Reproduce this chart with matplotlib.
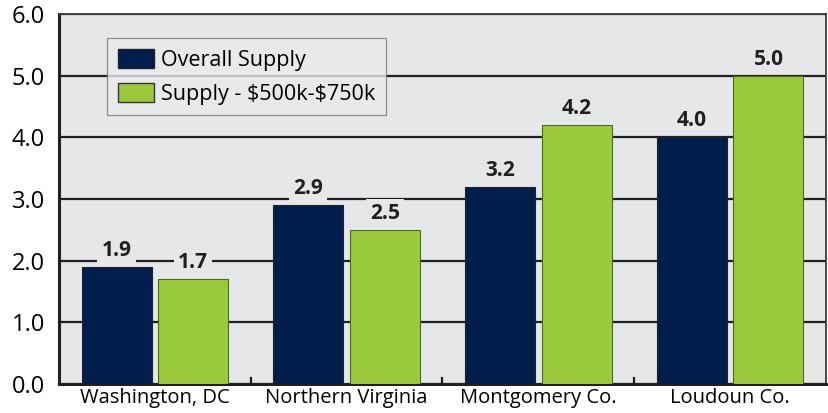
import matplotlib
matplotlib.use("Agg")
import matplotlib.pyplot as plt
import numpy as np
from matplotlib.patches import Patch

categories = ["Washington, DC", "Northern Virginia", "Montgomery Co.", "Loudoun Co."]
overall = [1.9, 2.9, 3.2, 4.0]
segment = [1.7, 2.5, 4.2, 5.0]
series_names = ["Overall Supply", "Supply - \\$500k-\\$750k"]
yticks = [0.0, 1.0, 2.0, 3.0, 4.0, 5.0, 6.0]

navy = "#001e4d"
green = "#9aca3c"
bg = "#e6e7e9"

plt.rcParams['font.family'] = ['Open Sans', 'DejaVu Sans']

fig = plt.figure(figsize=(8.29, 4.13), dpi=100)
ax = fig.add_axes([59/829, 29/413, 767/829, 370/413])
ax.set_facecolor(bg)

x = np.arange(len(categories))
w = 0.365
off = 0.2
b1 = ax.bar(x - off, overall, w, color=navy, edgecolor="#222222", linewidth=0.8, zorder=3)
b2 = ax.bar(x + off, segment, w, color=green, edgecolor="#4a6a1e", linewidth=0.8, zorder=3)

ax.set_xlim(-0.5, len(categories) - 0.5)
ax.set_ylim(0, 6)
ax.set_yticks(yticks)
ax.set_yticklabels([f"{v:.1f}" for v in yticks], fontsize=17)
ax.yaxis.grid(True, color="#231f20", linewidth=1.6, zorder=1)
ax.set_axisbelow(True)
ax.tick_params(axis='y', length=0, pad=10)

ax.set_xticks(x)
ax.set_xticklabels(categories, fontsize=14.5)
ax.tick_params(axis='x', length=0, pad=3)
for b in np.arange(0.5, len(categories) - 0.5, 1.0):
    ax.plot([b, b], [0, 0.09], color="#231f20", lw=1.6, zorder=2, clip_on=False)

for s in ['left', 'bottom']:
    ax.spines[s].set_linewidth(2.2)
    ax.spines[s].set_color("#231f20")
for s in ['top', 'right']:
    ax.spines[s].set_linewidth(1.3)
    ax.spines[s].set_color("#3a3a3a")

for bars, vals in ((b1, overall), (b2, segment)):
    for r, v in zip(bars, vals):
        ax.text(r.get_x() + r.get_width() / 2, v + 0.18, f"{v:.1f}",
                ha='center', va='baseline', fontsize=15, fontweight='bold',
                color="#231f20", zorder=4,
                bbox=dict(facecolor=bg, edgecolor='none', pad=3))

handles = [Patch(facecolor=navy, edgecolor="#222222", label=series_names[0]),
           Patch(facecolor=green, edgecolor="#333333", label=series_names[1])]
leg = ax.legend(handles=handles, loc='upper left', bbox_to_anchor=(48/767, 1 - 24/370),
                fontsize=15.5, frameon=True, fancybox=False, borderaxespad=0,
                handlelength=1.7, handleheight=1.0, handletextpad=0.3,
                labelspacing=0.55, borderpad=0.5)
leg.get_frame().set_facecolor("#e9eaec")
leg.get_frame().set_edgecolor("#777777")
leg.get_frame().set_linewidth(0.9)
leg.set_zorder(5)

fig.savefig("out.png", dpi=100)
